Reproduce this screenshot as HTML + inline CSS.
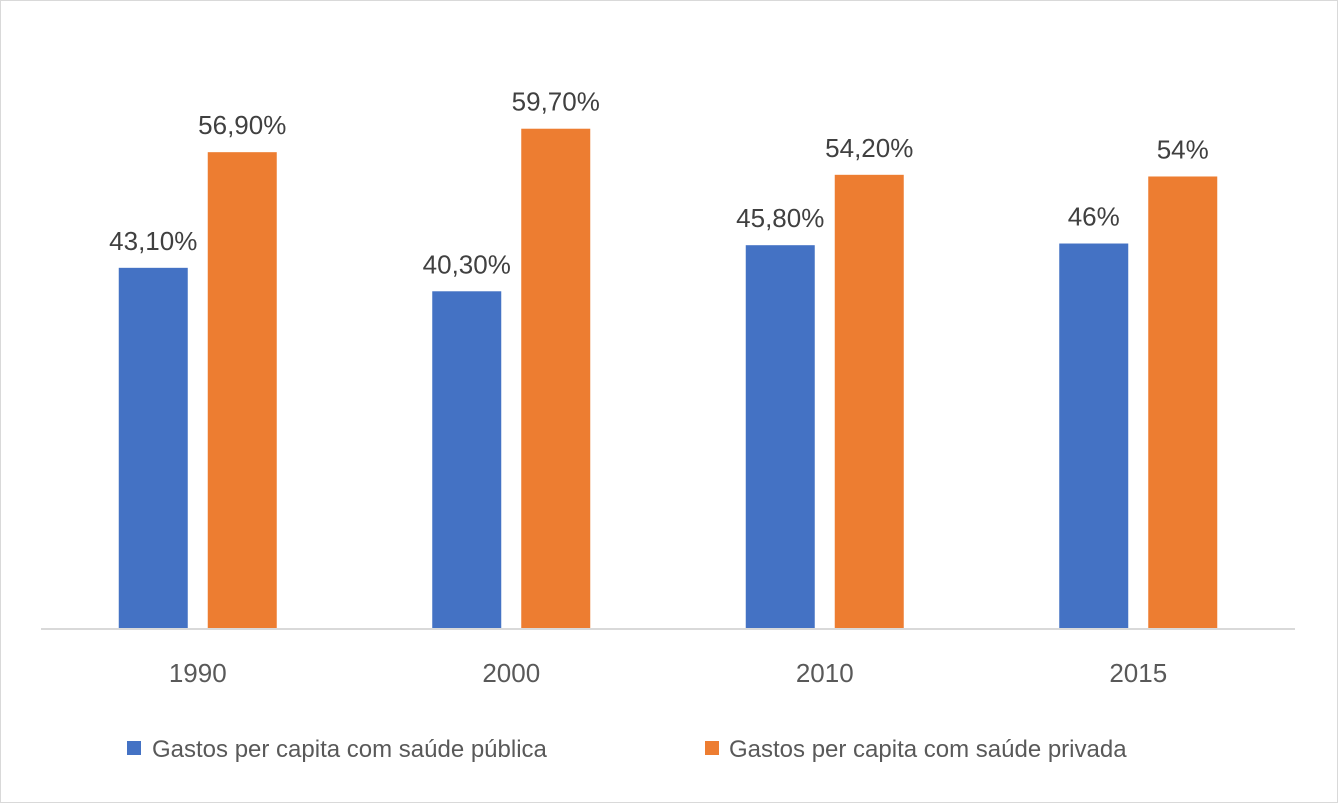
<!DOCTYPE html>
<html><head><meta charset="utf-8"><style>
html,body{margin:0;padding:0;background:#fff}
svg{display:block;font-family:"Liberation Sans","DejaVu Sans",sans-serif}
</style></head><body>
<svg id="chart" width="1338" height="803" viewBox="0 0 1338 803">
<rect x="0.5" y="0.5" width="1337" height="802" fill="#fff" stroke="#d9d9d9"/>
<g id="bars"></g>
<line x1="41" y1="629" x2="1295" y2="629" stroke="#d9d9d9" stroke-width="2"/>
<g id="xlabels"></g>
<g>
<rect x="127" y="741" width="14" height="14" fill="#4472c4"/>
<text x="152" y="757" font-size="24" fill="#595959">Gastos per capita com saúde pública</text>
<rect x="705" y="741" width="14" height="14" fill="#ed7d31"/>
<text x="729" y="757" font-size="24" fill="#595959">Gastos per capita com saúde privada</text>
</g>
</svg>
<script>
const categories = ["1990","2000","2010","2015"];
const publicValues = [43.1, 40.3, 45.8, 46];
const privateValues = [56.9, 59.7, 54.2, 54];
const publicLabels = ["43,10%","40,30%","45,80%","46%"];
const privateLabels = ["56,90%","59,70%","54,20%","54%"];

const ns="http://www.w3.org/2000/svg";
const baseY=629, pxPerUnit=8.38, x0=41, bandW=313.5, barW=69, gap=20;
const y = v => baseY - v*pxPerUnit;
const xc = i => x0 + bandW*(i+0.5);
const bars=document.getElementById('bars'), xl=document.getElementById('xlabels');
function mk(tag, attrs){const e=document.createElementNS(ns,tag);for(const k in attrs)e.setAttribute(k,attrs[k]);return e;}
categories.forEach((c,i)=>{
  const cx=xc(i);
  [[publicValues,publicLabels,"#4472c4",cx-gap/2-barW,"public"],[privateValues,privateLabels,"#ed7d31",cx+gap/2,"private"]].forEach(([vals,labs,col,bx,nm])=>{
    const r=mk('rect',{x:bx,y:y(vals[i]),width:barW,height:baseY-y(vals[i]),fill:col});
    
    
    bars.appendChild(r);
    const t=mk('text',{x:bx+barW/2,y:y(vals[i])-18,'text-anchor':'middle','font-size':'26',fill:'#404040'});
    t.textContent=labs[i];
    
    
    bars.appendChild(t);
  });
  const t=mk('text',{x:cx,y:682,'text-anchor':'middle','font-size':'26',fill:'#595959'});
  t.textContent=c;
  
  
  xl.appendChild(t);
});
</script>
</body></html>
